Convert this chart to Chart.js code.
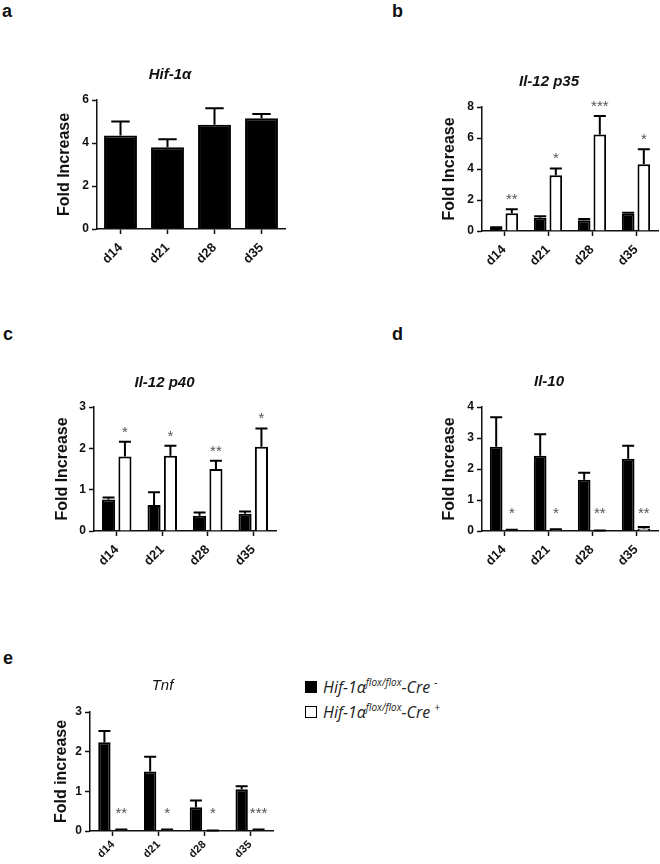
<!DOCTYPE html>
<html>
<head>
<meta charset="utf-8">
<script src="https://cdn.jsdelivr.net/npm/chart.js@4.4.1/dist/chart.umd.min.js"></script>
<style>
  body { margin: 0; background: #fff; width: 660px; height: 864px; position: relative; overflow: hidden; font-family: 'Liberation Sans', Arial, sans-serif; }
  .box { position: absolute; }
  .lbl { position: absolute; font-weight: bold; font-size: 18px; line-height: 18px; color: #111; }
  .legend { position: absolute; left: 305px; top: 674px; font-family: 'Open Sans', sans-serif; font-style: italic; font-size: 16px; color: #222; }
  .legend div { height: 25px; display: flex; align-items: center; white-space: nowrap; }
  .legend span.sw { width: 10px; height: 10px; border: 1.5px solid #000; margin-right: 6px; display: inline-block; flex: none; }
  .legend sup { font-size: 10px; position: relative; top: -5px; }
</style>
</head>
<body>
<div class="lbl" style="left:2px;top:2px">a</div>
<div class="lbl" style="left:392px;top:2px">b</div>
<div class="lbl" style="left:3px;top:325px">c</div>
<div class="lbl" style="left:392px;top:325px">d</div>
<div class="lbl" style="left:3px;top:649px">e</div>

<div class="legend">
  <div><span class="sw" style="background:#000"></span>Hif-1α<sup>flox/flox</sup>-Cre&nbsp;<sup>-</sup></div>
  <div><span class="sw" style="background:#fff"></span>Hif-1α<sup>flox/flox</sup>-Cre&nbsp;<sup>+</sup></div>
</div>

<script>
const days = ['d14', 'd21', 'd28', 'd35'];

// a: Hif-1α
const hifMean = [4.35, 3.8, 4.85, 5.15];
const hifSem = [0.65, 0.37, 0.77, 0.2];

// b: Il-12 p35
const p35Neg = [0.22, 0.85, 0.7, 1.12];
const p35NegSem = [0.03, 0.1, 0.08, 0.05];
const p35Pos = [1.14, 3.6, 6.22, 4.3];
const p35PosSem = [0.26, 0.44, 1.2, 0.97];
const p35Stars = ['**', '*', '***', '*'];

// c: Il-12 p40
const p40Neg = [0.76, 0.63, 0.37, 0.42];
const p40NegSem = [0.05, 0.31, 0.08, 0.05];
const p40Pos = [1.8, 1.82, 1.5, 2.04];
const p40PosSem = [0.36, 0.24, 0.2, 0.44];
const p40Stars = ['*', '*', '**', '*'];

// d: Il-10
const il10Neg = [2.72, 2.43, 1.65, 2.33];
const il10NegSem = [0.95, 0.69, 0.23, 0.42];
const il10Pos = [0.03, 0.05, 0.01, 0.08];
const il10PosSem = [0.01, 0.01, 0.005, 0.05];
const il10Stars = ['*', '*', '**', '**'];

// e: Tnf
const tnfNeg = [2.24, 1.5, 0.6, 1.05];
const tnfNegSem = [0.28, 0.37, 0.17, 0.08];
const tnfPos = [0.03, 0.03, 0.01, 0.03];
const tnfPosSem = [0.01, 0.01, 0.005, 0.01];
const tnfStars = ['**', '*', '*', '***'];

const FONT = "'Liberation Sans', Arial, sans-serif";

// one-sided error bars (mean + SEM) and significance stars
const errorBars = {
  id: 'errorBars',
  afterDatasetsDraw(chart) {
    const ctx = chart.ctx;
    const yScale = chart.scales.y;
    const base = yScale.getPixelForValue(0);
    ctx.save();
    ctx.strokeStyle = '#000';
    ctx.lineWidth = 2;
    chart.data.datasets.forEach((ds, i) => {
      const meta = chart.getDatasetMeta(i);
      meta.data.forEach((bar, j) => {
        const top = yScale.getPixelForValue(ds.data[j] + ds.sem[j]);
        const cap = Math.max(6, bar.width * 0.28);
        ctx.beginPath();
        ctx.moveTo(bar.x, bar.y);
        ctx.lineTo(bar.x, top);
        ctx.moveTo(bar.x - cap, top);
        ctx.lineTo(bar.x + cap, top);
        ctx.stroke();
        if (ds.stars) {
          const cy = Math.min(top - 13, base - 21);
          ctx.fillStyle = '#555';
          ctx.font = '15px ' + FONT;
          ctx.textAlign = 'center';
          ctx.textBaseline = 'alphabetic';
          ctx.fillText(ds.stars[j], bar.x, cy + 8);
        }
      });
    });
    ctx.restore();
  }
};

function drawPanel(g, title, titleStyle, yTitle, yMax, step, datasets, catPct, barPct) {
  const tSize = 15, tLH = tSize * 1.2;
  const left = Math.round(g.titleX - 9.6);
  const top = Math.round(g.titleY - tLH / 2 - 4);
  const width = g.right + 6 - left;
  const xh = 45;
  const height = g.bottom + xh - top;

  const box = document.createElement('div');
  box.className = 'box';
  box.style.left = left + 'px';
  box.style.top = top + 'px';
  const canvas = document.createElement('canvas');
  canvas.width = width;
  canvas.height = height;
  box.appendChild(canvas);
  document.body.appendChild(box);

  new Chart(canvas.getContext('2d'), {
    type: 'bar',
    data: { labels: days, datasets: datasets },
    options: {
      responsive: false,
      animation: false,
      layout: { padding: { left: 0, right: 6, top: 0, bottom: 0 } },
      datasets: { bar: { categoryPercentage: catPct, barPercentage: barPct } },
      plugins: {
        legend: { display: false },
        tooltip: { enabled: false },
        title: {
          display: true,
          text: title,
          color: '#111',
          font: { family: FONT, size: tSize, style: 'italic', weight: titleStyle },
          padding: { top: 4, bottom: g.top - top - 4 - tLH }
        }
      },
      scales: {
        x: {
          afterFit: s => { s.height = xh; },
          border: { display: true, color: '#111', width: 1.5 },
          grid: { display: true, offset: false, drawOnChartArea: false, drawTicks: true, tickLength: 5, tickColor: '#111', tickWidth: 1.5 },
          ticks: { autoSkip: false, minRotation: 45, maxRotation: 45, color: '#111', padding: g.pad, font: { family: FONT, size: g.xFont, weight: 'bold' } }
        },
        y: {
          min: 0,
          max: yMax,
          afterFit: s => { s.width = g.axisX - left; },
          border: { display: true, color: '#111', width: 1.5 },
          grid: { display: true, drawOnChartArea: false, drawTicks: true, tickLength: 5, tickColor: '#111', tickWidth: 1.5 },
          ticks: { stepSize: step, color: '#111', padding: 3, font: { family: FONT, size: 12, weight: 'bold' } },
          title: { display: true, text: yTitle, color: '#111', padding: 0, font: { family: FONT, size: 16, weight: 'bold' } }
        }
      }
    },
    plugins: [errorBars]
  });
}

function neg(data, sem) {
  return { data: data, sem: sem, backgroundColor: '#000', borderColor: '#000', borderWidth: 2 };
}
function pos(data, sem, stars) {
  return { data: data, sem: sem, stars: stars, backgroundColor: '#fff', borderColor: '#000', borderWidth: 2 };
}

drawPanel({ titleX: 65, axisX: 97, right: 285, titleY: 75, top: 100, bottom: 229, pad: 6, xFont: 13 },
  'Hif-1α', 'bold', 'Fold Increase', 6, 2, [neg(hifMean, hifSem)], 0.8, 0.875);

drawPanel({ titleX: 450, axisX: 482, right: 658, titleY: 82, top: 107, bottom: 231, pad: 6, xFont: 13 },
  'Il-12 p35', 'bold', 'Fold Increase', 8, 2,
  [neg(p35Neg, p35NegSem), pos(p35Pos, p35PosSem, p35Stars)], 0.71, 0.81);

drawPanel({ titleX: 63, axisX: 94, right: 276, titleY: 383, top: 407, bottom: 531, pad: 6, xFont: 13 },
  'Il-12 p40', 'bold', 'Fold Increase', 3, 1,
  [neg(p40Neg, p40NegSem), pos(p40Pos, p40PosSem, p40Stars)], 0.72, 0.8);

drawPanel({ titleX: 450, axisX: 482, right: 658, titleY: 382, top: 407, bottom: 531, pad: 6, xFont: 13 },
  'Il-10', 'bold', 'Fold Increase', 4, 1,
  [neg(il10Neg, il10NegSem), pos(il10Pos, il10PosSem, il10Stars)], 0.71, 0.81);

drawPanel({ titleX: 62, axisX: 90, right: 273, titleY: 686, top: 712, bottom: 831, pad: 2, xFont: 11 },
  'Tnf', 'normal', 'Fold increase', 3, 1,
  [neg(tnfNeg, tnfNegSem), pos(tnfPos, tnfPosSem, tnfStars)], 0.74, 0.73);
</script>
</body>
</html>
